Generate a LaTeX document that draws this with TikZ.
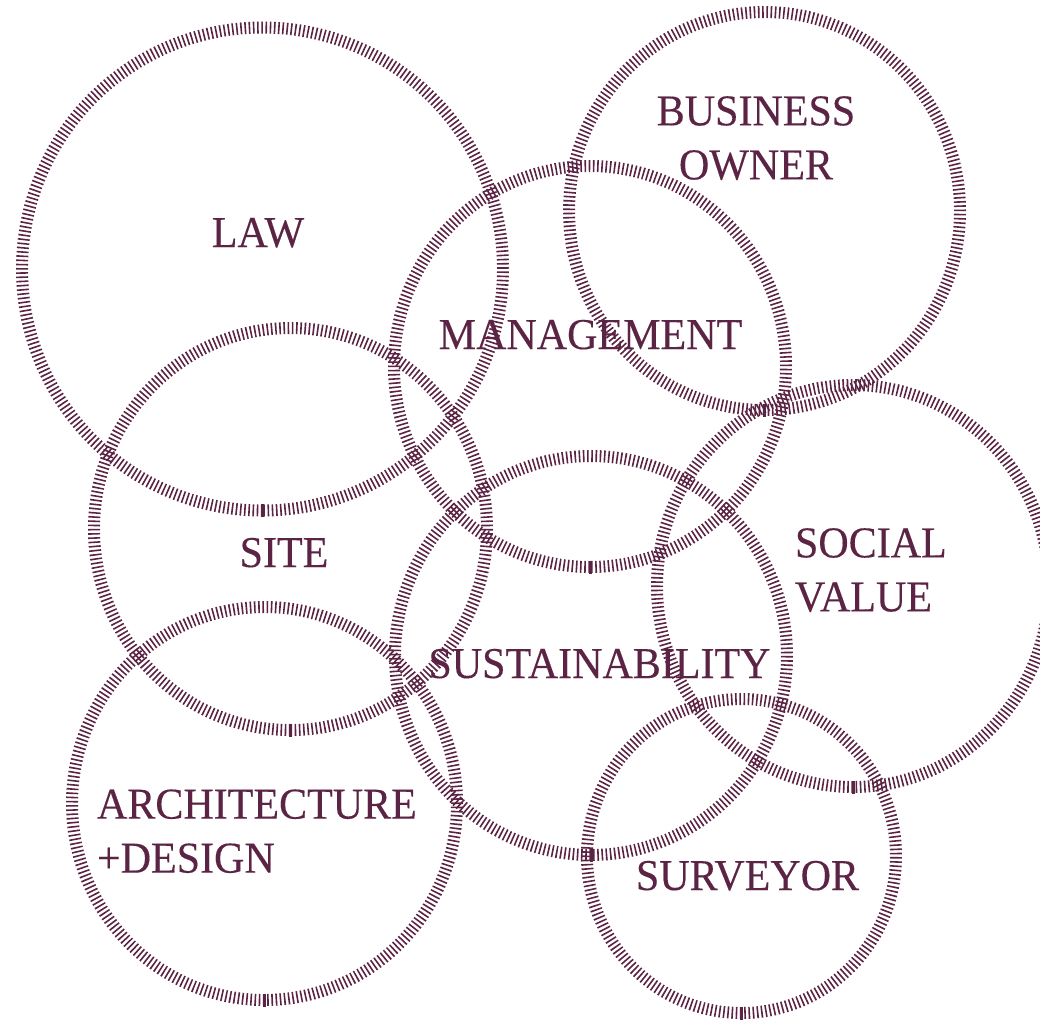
\documentclass[tikz,border=0pt]{standalone}
\usepackage{fontspec}
\setmainfont[FakeStretch=0.955,FakeBold=0.25]{Liberation Serif}
\usetikzlibrary{shapes.geometric}
\definecolor{plum}{RGB}{92,36,68}
\tikzset{
  ringnode/.style n args={2}{ellipse, minimum width=#1pt, minimum height=#2pt, inner sep=0pt, outer sep=0pt},
  ringline/.style={draw=plum, line width=12pt, dash pattern=on 1.6pt off 2.6pt},
  seam/.style={draw=plum, line width=3pt},
  lbl/.style={text=plum, inner sep=0pt, outer sep=0pt, font=\fontsize{44}{54}\selectfont}
}
\newcommand\ringat[5]{%
  \node[ringnode={#4*2}{#5*2}] (#1) at (#2,#3) {};
  \draw[ringline] (#1.south) arc[start angle=90, end angle=450, x radius=#4, y radius=#5];
  \draw[seam] ([yshift=-6.5pt]#1.south) -- ([yshift=6.5pt]#1.south);
}
\begin{document}
\begin{tikzpicture}[x=1pt,y=-1pt]
\fill[white] (0,0) rectangle (1040,1021);
\useasboundingbox (0,0) rectangle (1040,1021);
% rings
\ringat{law}{262.5}{269}{240.5}{241.5}
\ringat{bus}{764.5}{211}{195.5}{199}
\ringat{man}{590}{366.5}{196}{200.5}
\ringat{site}{290.5}{529}{196.5}{201}
\ringat{soc}{853}{586}{196}{201}
\ringat{sus}{591}{655.5}{196}{199.5}
\ringat{arch}{264.5}{803.5}{192.5}{196.5}
\ringat{sur}{741.5}{856}{154.5}{157}
% labels
\node[lbl, anchor=base] (tlaw) at (258,247) {LAW};
\node[lbl, anchor=south, align=center] (tbus) at (756,180) {BUSINESS\\OWNER};
\node[lbl, anchor=base] (tman) at (590.5,349) {MANAGEMENT};
\node[lbl, anchor=base] (tsite) at (284,567) {SITE};
\node[lbl, anchor=south west, align=left] (tsoc) at (795,612) {SOCIAL\\VALUE};
\node[lbl, anchor=base] (tsus) at (599.5,678) {SUSTAINABILITY};
\node[lbl, anchor=south west, align=left] (tarch) at (97,873) {ARCHITECTURE\\+DESIGN};
\node[lbl, anchor=base] (tsur) at (747.5,890) {SURVEYOR};
\end{tikzpicture}
\end{document}
